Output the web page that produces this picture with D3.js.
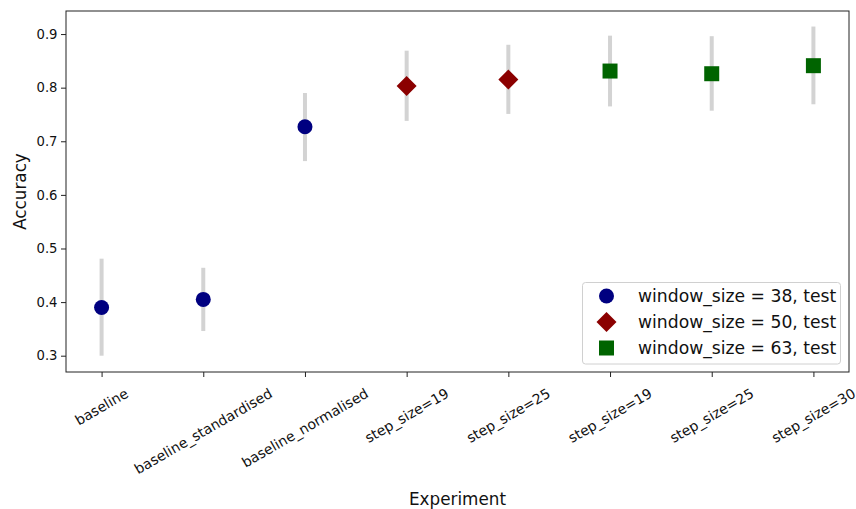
<!DOCTYPE html>
<html>
<head>
<meta charset="utf-8">
<script src="https://cdn.jsdelivr.net/npm/d3@7"></script>
<style>
  html, body { margin: 0; padding: 0; background: #fff; }
  svg { display: block; font-family: "DejaVu Sans", sans-serif; }
</style>
</head>
<body>
<svg id="chart" width="856" height="509"></svg>
<script>
// Experiments along the x axis
const experiments = [
  "baseline", "baseline_standardised", "baseline_normalised",
  "step_size=19", "step_size=25",
  "step_size=19", "step_size=25", "step_size=30"
];
// Mean accuracy and error-bar extents per experiment
const accuracy = [0.390, 0.405, 0.727, 0.803, 0.815, 0.831, 0.826, 0.841];
const errLow   = [0.300, 0.346, 0.663, 0.738, 0.751, 0.765, 0.757, 0.769];
const errHigh  = [0.481, 0.464, 0.790, 0.869, 0.880, 0.897, 0.896, 0.914];
// Series membership (index into groups) per experiment
const groupOf = [0, 0, 0, 1, 1, 2, 2, 2];
const groups = ["window_size = 38, test", "window_size = 50, test", "window_size = 63, test"];
const groupColors = ["#000080", "#8b0000", "#006400"];
const groupShapes = ["circle", "diamond", "square"];
const yTicks = [0.3, 0.4, 0.5, 0.6, 0.7, 0.8, 0.9];

const svg = d3.select("#chart");
const plot = { left: 66, right: 849, top: 11, bottom: 372 };

const x = d3.scaleLinear().domain([-0.35, experiments.length - 1 + 0.35]).range([plot.left, plot.right]);
const y = d3.scaleLinear().domain([0.2696, 0.943]).range([plot.bottom, plot.top]);

// Marker path for a shape centred on the origin
function markerPath(shape) {
  if (shape === "circle") return d3.symbol(d3.symbolCircle, Math.PI * 7.5 * 7.5)();
  if (shape === "square") return "M-7.5,-7.5H7.5V7.5H-7.5Z";
  return "M0,-10L10,0L0,10L-10,0Z";
}

// Error bars
svg.append("g").selectAll("line")
  .data(accuracy)
  .join("line")
  .attr("x1", (d, i) => x(i)).attr("x2", (d, i) => x(i))
  .attr("y1", (d, i) => y(errLow[i])).attr("y2", (d, i) => y(errHigh[i]))
  .attr("stroke", "#d3d3d3").attr("stroke-width", 4);

// Markers
svg.append("g").selectAll("path")
  .data(accuracy)
  .join("path")
  .attr("transform", (d, i) => `translate(${x(i)},${y(d)})`)
  .attr("d", (d, i) => markerPath(groupShapes[groupOf[i]]))
  .attr("fill", (d, i) => groupColors[groupOf[i]]);

// Y axis
const yAxis = svg.append("g")
  .attr("transform", `translate(${plot.left},0)`)
  .call(d3.axisLeft(y).tickValues(yTicks).tickFormat(d3.format(".1f")).tickSize(5).tickPadding(3.5));
yAxis.select(".domain").remove();
yAxis.attr("font-family", "DejaVu Sans").attr("font-size", 13.2);
yAxis.selectAll("line").attr("stroke", "#222");
yAxis.selectAll("text").attr("fill", "#111");

// X axis ticks
const xAxis = svg.append("g")
  .attr("transform", `translate(0,${plot.bottom})`)
  .call(d3.axisBottom(x).tickValues(d3.range(experiments.length)).tickSize(5).tickFormat(""));
xAxis.select(".domain").remove();
xAxis.selectAll("line").attr("stroke", "#222");

// Rotated x tick labels, centred horizontally on each tick, top-aligned below the axis
const labelTop = plot.bottom + 13;
const fs = 14;
const xl = svg.append("g").selectAll("text")
  .data(experiments)
  .join("text")
  .attr("font-size", fs)
  .attr("fill", "#111")
  .attr("text-anchor", "middle")
  .attr("dominant-baseline", "central")
  .text(d => d);
xl.each(function(d, i) {
  const w = this.getComputedTextLength();
  const h = fs * 1.16;
  const bh = w * 0.5 + h * Math.cos(Math.PI / 6);
  const cy = labelTop + bh / 2;
  d3.select(this).attr("transform", `translate(${x(i)},${cy}) rotate(-30)`);
});

// Frame
svg.append("rect")
  .attr("x", plot.left).attr("y", plot.top)
  .attr("width", plot.right - plot.left).attr("height", plot.bottom - plot.top)
  .attr("fill", "none").attr("stroke", "#222").attr("stroke-width", 1);

// Axis titles
svg.append("text")
  .attr("x", (plot.left + plot.right) / 2).attr("y", 505)
  .attr("text-anchor", "middle").attr("font-size", 16.8).attr("fill", "#111")
  .text("Experiment");
svg.append("text")
  .attr("transform", `translate(26,${(plot.top + plot.bottom) / 2}) rotate(-90)`)
  .attr("text-anchor", "middle").attr("font-size", 16.8).attr("fill", "#111")
  .text("Accuracy");

// Legend
const legend = svg.append("g");
legend.append("rect")
  .attr("x", 582.5).attr("y", 282.5).attr("width", 258).attr("height", 81.5)
  .attr("rx", 3).attr("fill", "#fff").attr("fill-opacity", 0.8)
  .attr("stroke", "#d0d0d0").attr("stroke-width", 1);
const rowY = [296, 322, 348];
const items = legend.selectAll("g.item")
  .data(groups)
  .join("g").attr("class", "item")
  .attr("transform", (d, i) => `translate(0,${rowY[i]})`);
items.append("path")
  .attr("transform", "translate(606.5,0)")
  .attr("d", (d, i) => markerPath(groupShapes[i]))
  .attr("fill", (d, i) => groupColors[i]);
items.append("text")
  .attr("x", 638).attr("y", 0)
  .attr("dominant-baseline", "central")
  .attr("font-size", 17.2).attr("fill", "#111")
  .text(d => d);
</script>
</body>
</html>
